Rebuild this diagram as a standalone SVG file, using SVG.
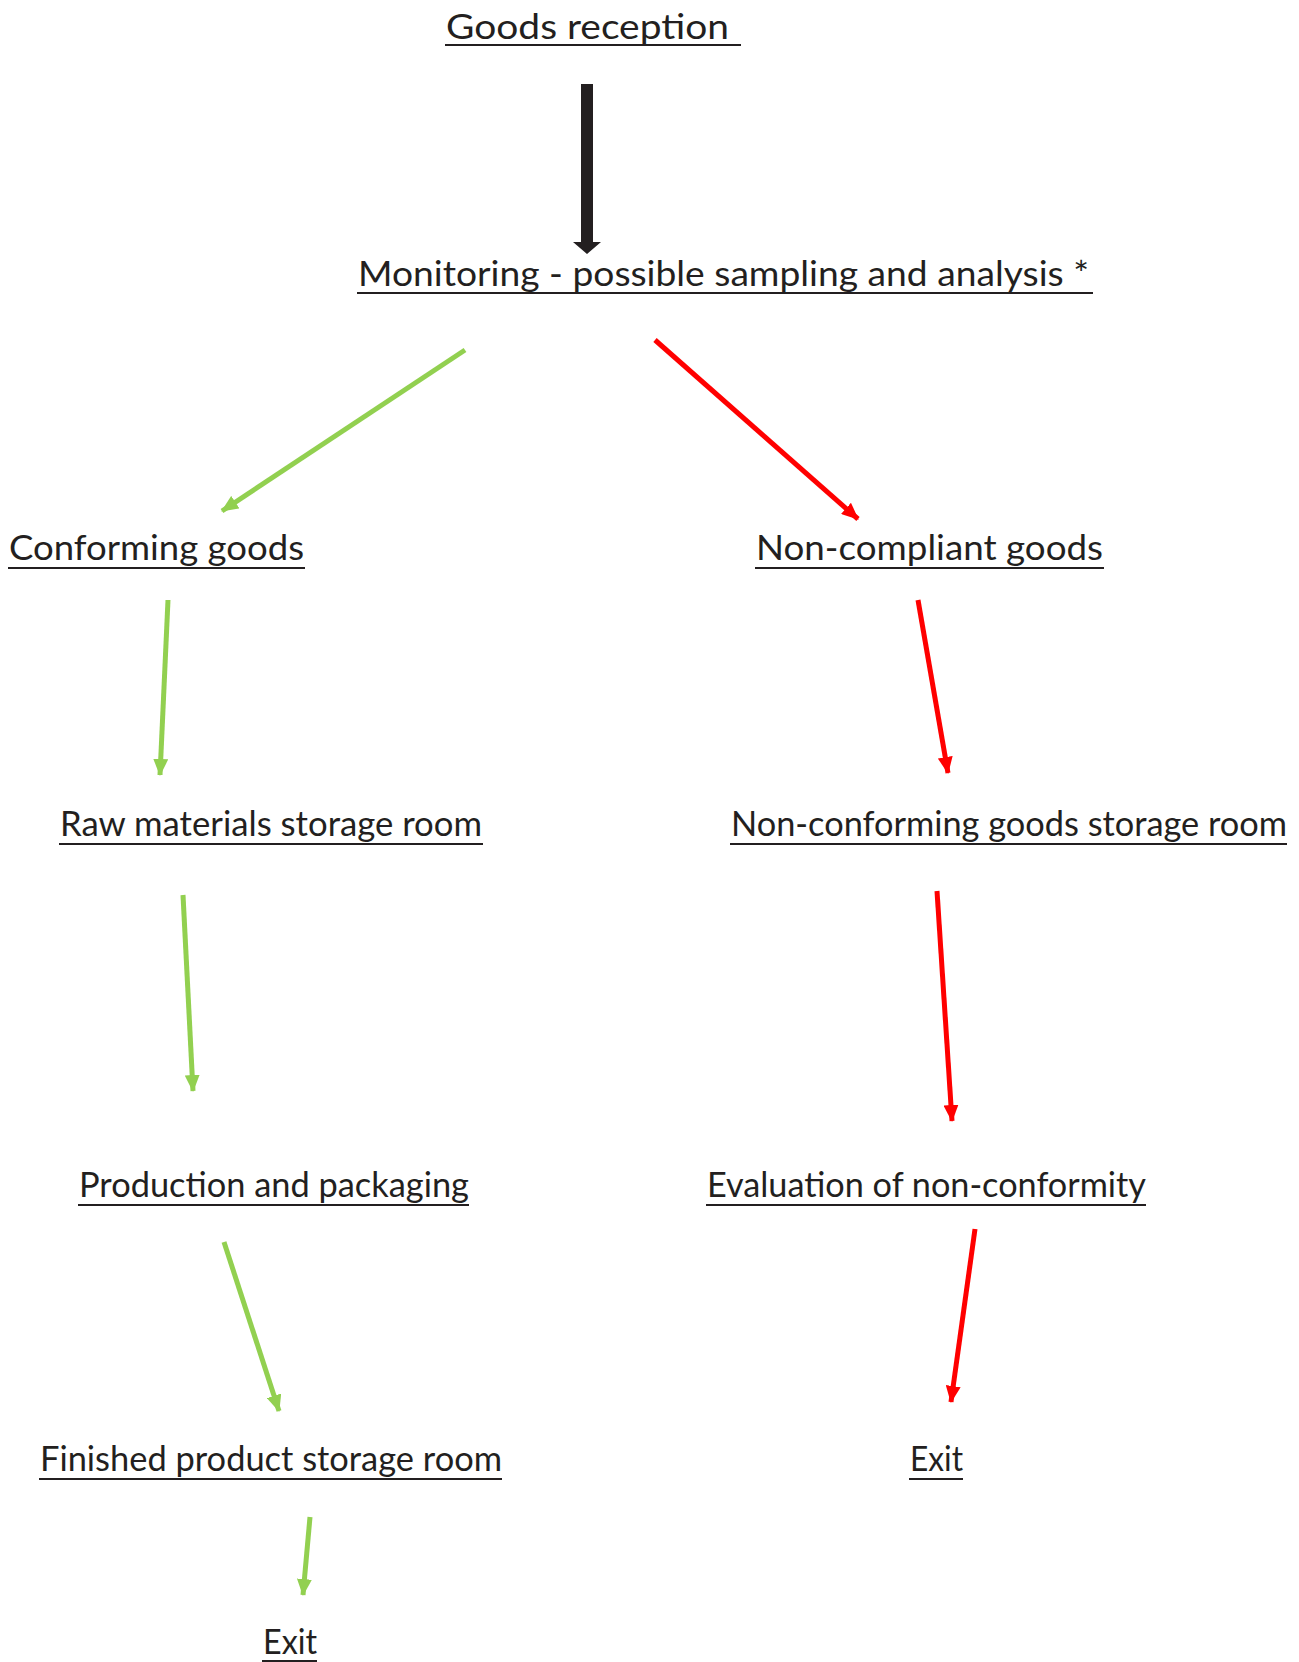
<svg xmlns="http://www.w3.org/2000/svg" width="1299" height="1662" viewBox="0 0 1299 1662">
<style>
.t{font-family:Lato,"Open Sans","Liberation Sans",sans-serif;font-size:35px;fill:#231F20}
.u{stroke:#231F20;stroke-width:2}
.g{stroke:#92D050;stroke-width:5;fill:none}
.r{stroke:#FF0000;stroke-width:5;fill:none}
</style>
<defs>
<marker id="ag" markerUnits="userSpaceOnUse" viewBox="0 0 17 15" refX="16" refY="7.5" markerWidth="17" markerHeight="15" orient="auto"><path d="M0,0 L17,7.5 L0,15 Z" fill="#92D050"/></marker>
<marker id="ar" markerUnits="userSpaceOnUse" viewBox="0 0 17 15" refX="16" refY="7.5" markerWidth="17" markerHeight="15" orient="auto"><path d="M0,0 L17,7.5 L0,15 Z" fill="#FF0000"/></marker>
</defs>
<rect width="1299" height="1662" fill="#fff"/>
<g id="connectors">
<path d="M581,84 H593 V242 H601 L587,254 L573,242 H581 Z" fill="#231F20"/>
<line class="g" x1="465" y1="350" x2="222" y2="511" marker-end="url(#ag)"/>
<line class="r" x1="655" y1="340" x2="858" y2="519" marker-end="url(#ar)"/>
<line class="g" x1="168" y1="600" x2="160" y2="775" marker-end="url(#ag)"/>
<line class="r" x1="918" y1="600" x2="948" y2="773" marker-end="url(#ar)"/>
<line class="g" x1="183" y1="895" x2="193" y2="1091" marker-end="url(#ag)"/>
<line class="r" x1="937" y1="891" x2="952" y2="1121" marker-end="url(#ar)"/>
<line class="g" x1="224" y1="1242" x2="279" y2="1411" marker-end="url(#ag)"/>
<line class="r" x1="975" y1="1229" x2="951" y2="1402" marker-end="url(#ar)"/>
<line class="g" x1="310" y1="1517" x2="303" y2="1595" marker-end="url(#ag)"/>
</g>
<g id="goods-reception">
<text class="t" x="446" y="39" textLength="283" lengthAdjust="spacingAndGlyphs">Goods reception</text>
<line class="u" x1="445" y1="45" x2="741" y2="45"/>
</g>
<g id="monitoring">
<text class="t" x="358" y="286" textLength="731" lengthAdjust="spacingAndGlyphs">Monitoring - possible sampling and analysis *</text>
<line class="u" x1="357" y1="293" x2="1093" y2="293"/>
</g>
<g id="conforming">
<text class="t" x="9" y="560" textLength="295" lengthAdjust="spacingAndGlyphs">Conforming goods</text>
<line class="u" x1="8" y1="568" x2="305" y2="568"/>
</g>
<g id="non-compliant">
<text class="t" x="756" y="560" textLength="347" lengthAdjust="spacingAndGlyphs">Non-compliant goods</text>
<line class="u" x1="755" y1="568" x2="1104" y2="568"/>
</g>
<g id="raw-materials">
<text class="t" x="60" y="836" textLength="422" lengthAdjust="spacingAndGlyphs">Raw materials storage room</text>
<line class="u" x1="59" y1="844" x2="483" y2="844"/>
</g>
<g id="non-conforming-storage">
<text class="t" x="731" y="836" textLength="556" lengthAdjust="spacingAndGlyphs">Non-conforming goods storage room</text>
<line class="u" x1="730" y1="844" x2="1287" y2="844"/>
</g>
<g id="production">
<text class="t" x="79" y="1197" textLength="390" lengthAdjust="spacingAndGlyphs">Production and packaging</text>
<line class="u" x1="78" y1="1205" x2="469" y2="1205"/>
</g>
<g id="evaluation">
<text class="t" x="707" y="1197" textLength="439" lengthAdjust="spacingAndGlyphs">Evaluation of non-conformity</text>
<line class="u" x1="706" y1="1205" x2="1146" y2="1205"/>
</g>
<g id="finished-storage">
<text class="t" x="40" y="1471" textLength="462" lengthAdjust="spacingAndGlyphs">Finished product storage room</text>
<line class="u" x1="39" y1="1479" x2="502" y2="1479"/>
</g>
<g id="exit-right">
<text class="t" x="910" y="1471" textLength="53" lengthAdjust="spacingAndGlyphs">Exit</text>
<line class="u" x1="909" y1="1479" x2="963" y2="1479"/>
</g>
<g id="exit-left">
<text class="t" x="263" y="1654" textLength="54" lengthAdjust="spacingAndGlyphs">Exit</text>
<line class="u" x1="262" y1="1661" x2="317" y2="1661"/>
</g>
</svg>
